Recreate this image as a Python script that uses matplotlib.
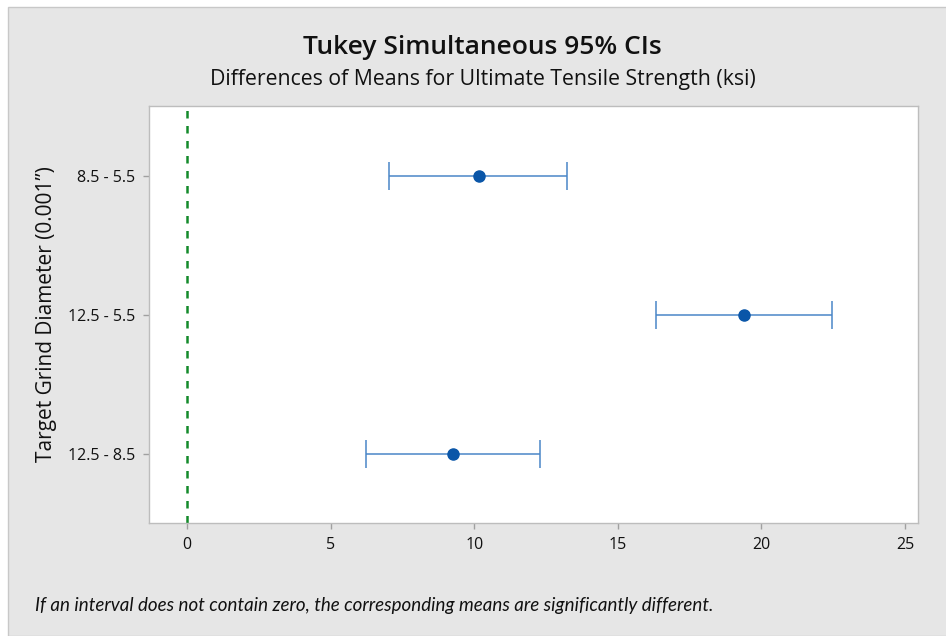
import matplotlib
matplotlib.use("Agg")
import matplotlib.pyplot as plt
from matplotlib.patches import Rectangle

# Data
comparisons = ["8.5 - 5.5", "12.5 - 5.5", "12.5 - 8.5"]
diff_means = [10.17, 19.40, 9.28]
lower = [7.05, 16.32, 6.22]
upper = [13.22, 22.47, 12.30]
x_ticks = [0, 5, 10, 15, 20, 25]

fig = plt.figure(figsize=(9.46, 6.36), dpi=100)
fig.patch.set_facecolor("white")
bg = Rectangle((8/946, 0), 1 - 8/946 + 0.01, 1 - 7/636, transform=fig.transFigure,
               facecolor="#e6e6e6", edgecolor="#c8c8c8", linewidth=1.0, zorder=-10)
fig.patches.append(bg)

ax = fig.add_axes([149/946, 113/636, (918-149)/946, (523-106)/636])
ax.set_facecolor("white")

ypos = list(range(1, len(comparisons) + 1))
xerr_lo = [m - l for m, l in zip(diff_means, lower)]
xerr_hi = [u - m for m, u in zip(diff_means, upper)]

ax.axvline(0, color="#138a2a", linestyle=(0, (3, 3)), linewidth=1.8, zorder=1)
ax.errorbar(diff_means, ypos, xerr=[xerr_lo, xerr_hi], fmt="o", color="#0a56a8",
            ecolor="#4a86c8", elinewidth=1.1, capsize=10, capthick=1.1,
            markersize=8, zorder=3)

ax.set_xlim(-1.32, 25.45)
ax.set_ylim(3.5, 0.5)
ax.set_xticks(x_ticks)
ax.set_yticks(ypos)
ax.set_yticklabels(comparisons)

fam = ["Open Sans", "DejaVu Sans"]
for lbl in ax.get_xticklabels() + ax.get_yticklabels():
    lbl.set_fontfamily(fam)
    lbl.set_fontsize(11.5)
    lbl.set_color("#111111")

for sp in ax.spines.values():
    sp.set_color("#bdbdbd")
    sp.set_linewidth(1.0)
ax.tick_params(axis="both", direction="out", length=4, color="#a0a0a0", width=1.0, pad=6)

ax.set_ylabel("Target Grind Diameter (0.001\u201d)", fontsize=15, family=fam,
              color="#111111", labelpad=8)

fig.text(482/946, 1 - 47/636, "Tukey Simultaneous 95% CIs", ha="center", va="center",
         fontsize=19, fontweight="semibold", family=fam, color="#111111")
fig.text(483/946, 1 - 80/636, "Differences of Means for Ultimate Tensile Strength (ksi)",
         ha="center", va="center", fontsize=15.3, family=fam, color="#111111")
fig.text(35/946, 1 - 605/636,
         "If an interval does not contain zero, the corresponding means are significantly different.",
         ha="left", va="center", fontsize=13.5, style="italic", family=["Lato", "DejaVu Sans"],
         color="#111111")

fig.savefig("out.png", dpi=100, facecolor=fig.get_facecolor())
